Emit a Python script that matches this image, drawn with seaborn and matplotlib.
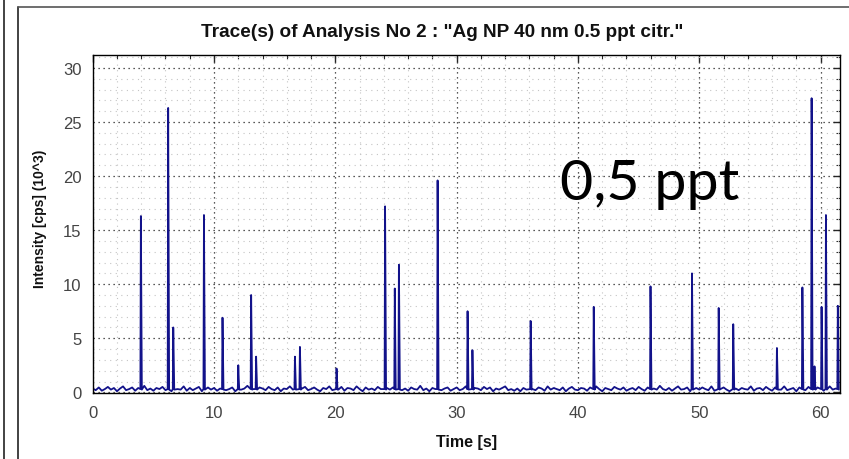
import seaborn as sns
import matplotlib.pyplot as plt
import matplotlib.ticker as mticker
from matplotlib.lines import Line2D
import pandas as pd
import numpy as np

# --- Data (intensity in 10^3 cps) ---
# baseline noise, one reading every 0.25 s
noise = [
    0.35, 0.20, 0.45, 0.15, 0.30, 0.50, 0.25, 0.40, 0.10, 0.35, 0.55, 0.20, 0.30, 0.45, 0.15, 0.40, 0.25, 0.60, 0.20, 0.35,
    0.15, 0.40, 0.30, 0.50, 0.20, 0.35, 0.10, 0.45, 0.30, 0.25, 0.55, 0.15, 0.40, 0.20, 0.35, 0.50, 0.10, 0.30, 0.45, 0.25,
    0.40, 0.15, 0.35, 0.55, 0.20, 0.30, 0.45, 0.10, 0.40, 0.25, 0.35, 0.60, 0.20, 0.30, 0.15, 0.45, 0.35, 0.20, 0.50, 0.30,
    0.20, 0.45, 0.10, 0.35, 0.30, 0.55, 0.25, 0.40, 0.15, 0.35, 0.50, 0.20, 0.30, 0.45, 0.25, 0.10, 0.40, 0.30, 0.55, 0.20,
    0.30, 0.25, 0.50, 0.15, 0.40, 0.35, 0.20, 0.55, 0.30, 0.10, 0.45, 0.25, 0.35, 0.20, 0.50, 0.30, 0.15, 0.40, 0.25, 0.45,
    0.25, 0.50, 0.20, 0.35, 0.15, 0.45, 0.30, 0.25, 0.60, 0.20, 0.35, 0.10, 0.40, 0.30, 0.50, 0.20, 0.35, 0.45, 0.15, 0.30,
    0.45, 0.20, 0.30, 0.55, 0.25, 0.15, 0.40, 0.35, 0.20, 0.50, 0.30, 0.45, 0.10, 0.35, 0.25, 0.40, 0.55, 0.20, 0.30, 0.15,
    0.35, 0.10, 0.40, 0.25, 0.50, 0.30, 0.20, 0.45, 0.35, 0.15, 0.55, 0.25, 0.40, 0.30, 0.20, 0.45, 0.10, 0.35, 0.50, 0.25,
    0.20, 0.40, 0.35, 0.15, 0.45, 0.25, 0.55, 0.30, 0.10, 0.40, 0.30, 0.20, 0.50, 0.35, 0.25, 0.45, 0.15, 0.30, 0.40, 0.20,
    0.50, 0.30, 0.15, 0.45, 0.20, 0.35, 0.25, 0.60, 0.30, 0.20, 0.40, 0.15, 0.35, 0.55, 0.25, 0.30, 0.45, 0.10, 0.35, 0.40,
    0.25, 0.45, 0.30, 0.20, 0.55, 0.15, 0.40, 0.30, 0.45, 0.25, 0.10, 0.50, 0.35, 0.20, 0.40, 0.30, 0.25, 0.55, 0.15, 0.35,
    0.40, 0.20, 0.50, 0.30, 0.15, 0.45, 0.35, 0.25, 0.55, 0.20, 0.30, 0.40, 0.10, 0.45, 0.35, 0.20, 0.50, 0.25, 0.30, 0.45,
    0.30, 0.15, 0.40, 0.55, 0.25, 0.35, 0.20,
]
noise_step = 0.25

# particle events: time [s], peak height, second (adjacent) sample height
peak_time = [3.97, 6.22, 6.64, 9.17, 10.70, 12.00, 13.06, 13.47, 16.67, 17.08,
             20.10, 24.10, 24.90, 25.24, 28.43, 30.90, 31.30, 36.10, 41.30, 45.98,
             49.40, 51.60, 52.80, 56.40, 58.50, 59.26, 59.50, 60.08, 60.44, 61.42]
peak_top = [16.3, 26.3, 6.0, 16.4, 6.9, 2.5, 9.0, 3.3, 3.3, 4.2,
            2.2, 17.2, 9.6, 11.8, 19.6, 7.5, 3.9, 6.6, 7.9, 9.8,
            11.0, 7.8, 6.3, 4.1, 9.7, 27.2, 2.4, 7.9, 16.4, 8.0]
peak_shoulder = [8.1, 13.1, 2.9, 8.1, 3.3, 1.2, 4.5, 1.6, 1.8, 2.0,
                 1.2, 8.6, 4.8, 5.9, 9.8, 3.7, 2.0, 3.1, 3.9, 4.8,
                 5.4, 3.9, 3.1, 2.1, 5.0, 13.5, 1.0, 3.9, 8.5, 4.0]

title = 'Trace(s) of Analysis No 2 : "Ag NP 40 nm 0.5 ppt citr."'
x_ticks = [0, 10, 20, 30, 40, 50, 60]
y_ticks = [0, 5, 10, 15, 20, 25, 30]

# --- Build the trace ---
base_t = np.arange(len(noise)) * noise_step
keep = np.ones(len(base_t), bool)
for t in peak_time:
    keep &= np.abs(base_t - t) > 0.12
parts = [pd.DataFrame({"time": base_t[keep], "intensity": np.array(noise)[keep]})]
dt = 0.04
for t, top, sh in zip(peak_time, peak_top, peak_shoulder):
    parts.append(pd.DataFrame({"time": [t - dt, t, t + dt, t + 2 * dt],
                               "intensity": [0.3, top, sh, 0.25]}))
df = pd.concat(parts).sort_values("time")

# --- Style ---
sns.set_style("white")
plt.rcParams["font.family"] = ["Liberation Sans", "DejaVu Sans"]

fig = plt.figure(figsize=(8.49, 4.60), dpi=100)
ax = fig.add_axes([0.1092, 0.1426, 0.8802, 0.7357])

sns.lineplot(data=df, x="time", y="intensity", color="#12128a", lw=1.3,
             estimator=None, sort=True, ax=ax)

ax.set_xlim(0, 61.6)
ax.set_ylim(-0.1, 31.2)
ax.xaxis.set_major_locator(mticker.FixedLocator(x_ticks))
ax.yaxis.set_major_locator(mticker.FixedLocator(y_ticks))
ax.xaxis.set_minor_locator(mticker.MultipleLocator(2))
ax.yaxis.set_minor_locator(mticker.MultipleLocator(1))

ax.tick_params(which="major", direction="inout", length=8, width=1,
               labelsize=12, labelcolor="#444444", pad=4, color="black")
ax.tick_params(which="minor", direction="inout", length=5, width=0.8, color="black")

for side in ("top", "right"):
    sec = ax.secondary_xaxis("top") if side == "top" else ax.secondary_yaxis("right")
    axis = sec.xaxis if side == "top" else sec.yaxis
    axis.set_major_locator(mticker.FixedLocator(x_ticks if side == "top" else y_ticks))
    axis.set_minor_locator(mticker.MultipleLocator(2 if side == "top" else 1))
    sec.tick_params(which="major", direction="in", length=5, width=1)
    sec.tick_params(which="minor", direction="in", length=3, width=0.8)
    sec.tick_params(labeltop=False, labelright=False)
    for s in sec.spines.values():
        s.set_visible(False)

ax.grid(which="major", color="#222222", linestyle=(0, (1, 3)), lw=0.9)
ax.grid(which="minor", color="#c4c4c4", linestyle=(0, (1, 4)), lw=0.8)
ax.set_axisbelow(True)
for s in ax.spines.values():
    s.set_color("black")
    s.set_linewidth(1.0)

ax.set_xlabel("Time [s]", fontsize=11.5, fontweight="bold", color="#111111")
ax.xaxis.set_label_coords(0.5, -0.1427)
ax.xaxis.label.set_va("center")
ax.set_ylabel("Intensity [cps] (10^3)", fontsize=10, fontweight="bold", color="#111111")
ax.yaxis.set_label_coords(-0.0699, 0.52)
ax.yaxis.label.set_va("center")

fig.text(0.5206, 0.930, title, ha="center", va="center", fontsize=13.7,
         fontweight="bold", color="#111111")
fig.text(0.6596, 0.5652, "0,5 ppt", ha="left", va="baseline", fontsize=41.3,
         family=["Lato", "DejaVu Sans"], color="black")

# window frame
fig.add_artist(Line2D([4 / 849, 4 / 849], [0, 1], color="#222222", lw=1.2))
fig.add_artist(Line2D([18 / 849, 18 / 849], [0, 1 - 8 / 460], color="#222222", lw=1.2))
fig.add_artist(Line2D([18 / 849, 1], [1 - 8 / 460, 1 - 8 / 460], color="#555555", lw=1.2))

fig.savefig("out.png", dpi=100)
plt.close(fig)
